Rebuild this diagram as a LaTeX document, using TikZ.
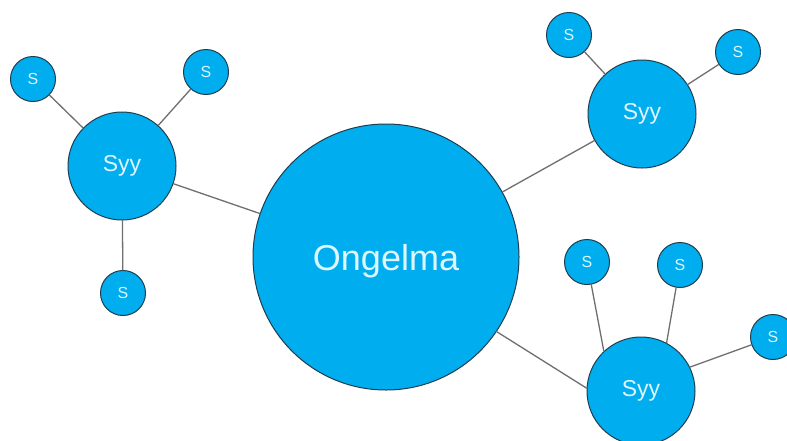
\documentclass[tikz,border=0pt]{standalone}
\usepackage{fontspec}
\setmainfont{Liberation Sans}
\usepackage{pgf,tikz}

\definecolor{bubble}{HTML}{00AEEF}
\definecolor{rim}{HTML}{1D3D4E}
\definecolor{stick}{HTML}{6F6F6F}
\definecolor{label}{HTML}{DDF6FF}

\begin{document}
\begin{tikzpicture}[line cap=round,line join=round,x=1pt,y=-1pt,
  ball/.style={circle,fill=bubble,draw=rim,line width=1pt,text=label,inner sep=0pt},
  bigball/.style={ball,minimum size=266pt,text depth=0pt,font=\fontsize{36}{40}\selectfont},
  midball/.style={ball,minimum size=108pt,font=\fontsize{23}{26}\selectfont},
  smallball/.style={ball,minimum size=45pt,font=\fontsize{16}{18}\selectfont},
  link/.style={draw=stick,line width=1.3pt}]
\useasboundingbox (0,0) rectangle (787,440);
\clip (0,0) rectangle (787,440);
\fill[white] (0,0) rectangle (787,440);
% the problem and its causes
\node[bigball] (ongelma) at (386,257) {Ongelma};
\node[midball] (syyL) at (122,166) {Syy};
\node[midball] (syyT) at (642,114) {Syy};
\node[midball] (syyB) at (641,391) {Syy};
% sub causes
\node[smallball] (sL1) at (33,79) {S};
\node[smallball] (sL2) at (206,72) {S};
\node[smallball] (sL3) at (123,293) {S};
\node[smallball] (sT1) at (569,35) {S};
\node[smallball] (sT2) at (738,52) {S};
\node[smallball] (sB1) at (587,262) {S};
\node[smallball] (sB2) at (680,265) {S};
\node[smallball] (sB3) at (773,337) {S};
% links
\foreach \a/\b in {ongelma/syyL,ongelma/syyT,syyL/sL1,syyL/sL2,syyL/sL3,syyT/sT1,syyT/sT2}
\draw[link] (\a) -- (\b);
\draw[link] (ongelma.-34) -- (syyB.177);
\draw[link] (syyB.133) -- (sB1);
\draw[link] (syyB.62) -- (sB2);
\draw[link] (syyB.26) -- (sB3);
\end{tikzpicture}
\end{document}
